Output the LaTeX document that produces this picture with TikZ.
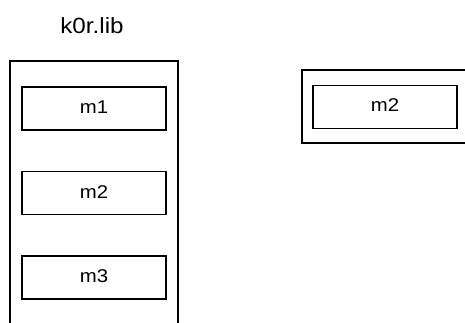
\documentclass[tikz,border=0pt]{standalone}
\usepackage{fontspec}
\setmainfont{Liberation Sans}[FakeStretch=1.1]
\usetikzlibrary{positioning}

\tikzset{
  frameline/.style={draw=black, line width=1.5pt},
  modbox/.style={frameline, minimum width=144pt, minimum height=43pt,
                 inner sep=0pt, text height=1em, text depth=0pt,
                 font=\fontsize{18.5}{21}\selectfont},
}

\begin{document}
\begin{tikzpicture}[x=1pt, y=-1pt, node distance=40pt]
      \useasboundingbox (0,0) rectangle (465,323);
      \clip (0,0) rectangle (465,323);
      % Library with its modules
      \node[font=\fontsize{22}{25}\selectfont] (libname) at (92,25.5) {k0r.lib};
      \draw[frameline] (10,340) -- (10,61) -- (178,61) -- (178,340);
      \node[modbox] (lm1) at (94,108.5) {m1};
      \node[modbox, below=of lm1] (lm2) {m2};
      \node[modbox, below=of lm2] (lm3) {m3};
      % Single module outside
      \draw[frameline] (302,70) rectangle (480,143);
      \node[modbox] (om2) at (385,107) {m2};
    \end{tikzpicture}
\end{document}
